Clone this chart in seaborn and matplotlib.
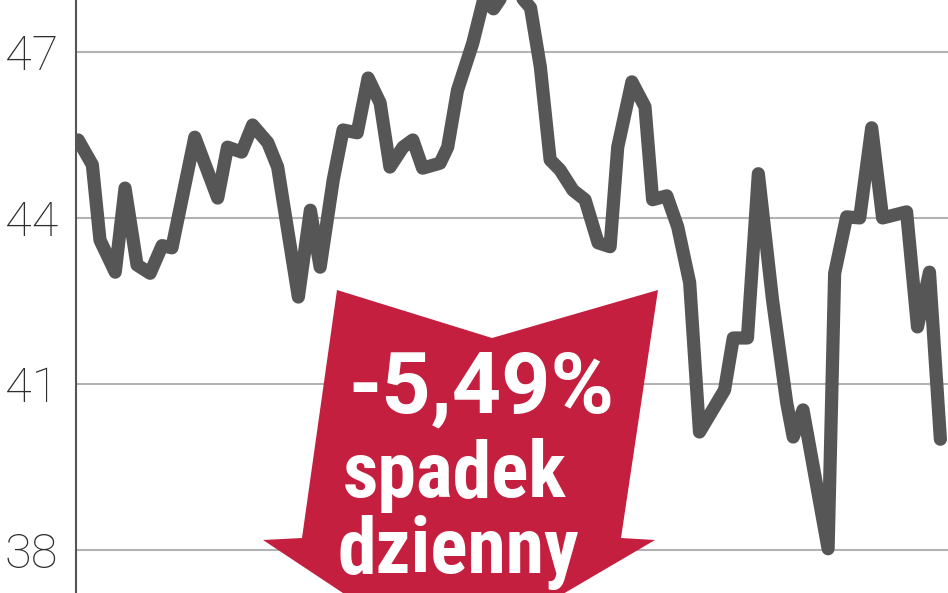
import matplotlib
matplotlib.use("Agg")
import matplotlib.pyplot as plt
import seaborn as sns
import pandas as pd
from matplotlib.patches import Polygon

# ==========================
# DATA
# ==========================

sessions = [0.2, 1.5, 2.2, 3.6, 4.5, 5.6, 6.8, 7.9, 8.8, 10.9,
            13.0, 13.9, 15.2, 16.2, 17.6, 18.5, 20.4, 21.5, 22.4, 23.6,
            24.5, 25.8, 26.8, 27.9, 28.8, 30.0, 30.9, 31.8, 33.4, 34.1,
            35.0, 36.4, 37.4, 38.3, 39.4, 40.6, 41.7, 42.6, 43.5, 44.4,
            45.6, 46.7, 47.9, 49.0, 49.7, 51.0, 52.2, 52.9, 54.2, 55.2,
            56.3, 57.2, 59.5, 60.3, 61.6, 62.6, 63.9, 65.2, 65.8, 66.7,
            69.0, 69.6, 70.7, 71.9, 73.0, 74.0, 76.2, 77.2, 78.3, 79.3]

price = [45.41, 44.96, 43.60, 43.02, 44.54, 43.15, 43.00, 43.50, 43.46, 45.46,
         44.36, 45.28, 45.19, 45.68, 45.36, 44.92, 42.57, 44.14, 43.11, 44.69,
         45.59, 45.54, 46.53, 46.08, 44.92, 45.28, 45.41, 44.90, 44.99, 45.28,
         46.31, 47.16, 47.95, 47.78, 48.10, 48.05, 47.80, 46.73, 45.05, 44.87,
         44.50, 44.33, 43.55, 43.48, 45.28, 46.46, 46.01, 44.33, 44.40, 43.84,
         42.83, 40.13, 40.89, 41.83, 41.83, 44.80, 42.52, 40.66, 40.04, 40.53,
         38.02, 43.00, 44.02, 44.00, 45.63, 44.00, 44.11, 42.03, 43.02, 40.00]

y_ticks = [38, 41, 44, 47]
y_labels = ["38", "41", "44", "47"]

change_text = "-5,49%"
caption = ["spadek", "dzienny"]

df = pd.DataFrame({"sesja": sessions, "kurs": price})

# ==========================
# PLOT
# ==========================

sns.set_style("white")

W, H = 948, 593
fig = plt.figure(figsize=(W / 100, H / 100), dpi=100)
ax = fig.add_axes([76 / W, 0, 1 - 76 / W, 1])

ax.set_xlim(0, 80)
ax.set_ylim(37.22, 47.94)

for v in y_ticks:
    ax.axhline(v, color="#b3b3b3", lw=1.5, zorder=1)

sns.lineplot(data=df, x="sesja", y="kurs", ax=ax, color="#565656",
             lw=9.5, sort=False, zorder=3)
ax.lines[-1].set_solid_capstyle("round")
ax.lines[-1].set_solid_joinstyle("round")

ax.set_xticks([])
ax.set_yticks(y_ticks)
ax.set_yticklabels(y_labels, fontsize=35, color="#2e2e2e",
                   family=["Roboto", "DejaVu Sans"], fontweight="light")
ax.tick_params(axis="y", length=0, pad=13)
ax.set_xlabel("")
ax.set_ylabel("")

for s in ["top", "right", "bottom"]:
    ax.spines[s].set_visible(False)
ax.spines["left"].set_color("#555555")
ax.spines["left"].set_linewidth(1.5)

# red arrow (pixel outline -> figure fraction)
arrow_px = [(337, 290), (492, 338), (658, 290), (621, 538), (655, 540),
            (447, 662), (263, 540), (302, 538)]
arrow = Polygon([(x / W, 1 - y / H) for x, y in arrow_px], closed=True,
                transform=fig.transFigure, facecolor="#c41f3e",
                edgecolor="none", zorder=5)
fig.patches.append(arrow)

fig.text(481 / W, 1 - 412 / H, change_text, ha="center", va="baseline",
         color="white", fontsize=62, fontweight="bold",
         family=["Roboto", "DejaVu Sans"], zorder=6)
fig.text(455 / W, 1 - 497 / H, caption[0], ha="center", va="baseline",
         color="white", fontsize=56, fontweight="bold",
         family=["Roboto Condensed", "DejaVu Sans"], zorder=6)
fig.text(458 / W, 1 - 573 / H, caption[1], ha="center", va="baseline",
         color="white", fontsize=56, fontweight="bold",
         family=["Roboto Condensed", "DejaVu Sans"], zorder=6)

plt.savefig("out.png", dpi=100)
plt.close()
